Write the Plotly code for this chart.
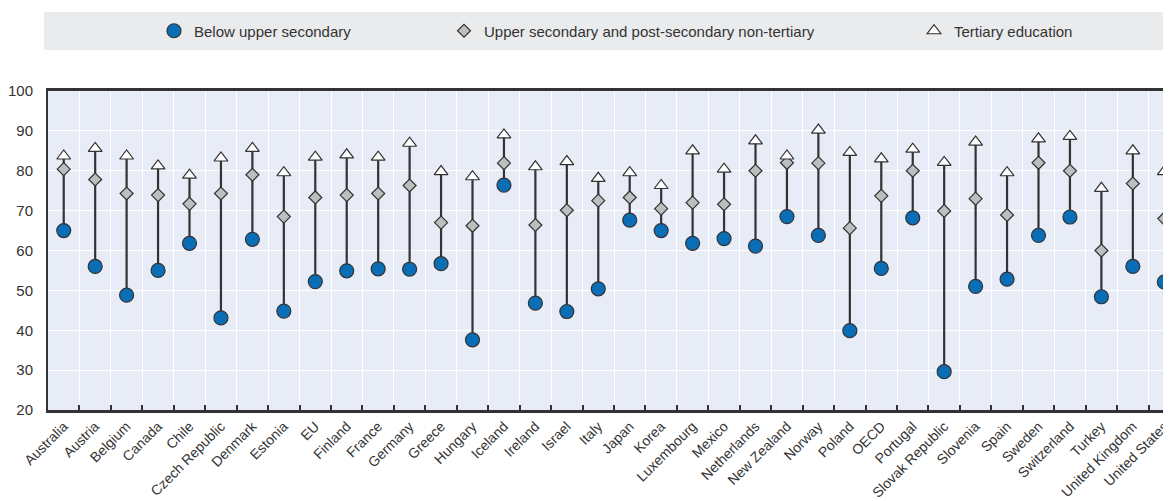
import plotly.graph_objects as go

countries = ["Australia", "Austria", "Belgium", "Canada", "Chile", "Czech Republic", "Denmark",
             "Estonia", "EU", "Finland", "France", "Germany", "Greece", "Hungary", "Iceland",
             "Ireland", "Israel", "Italy", "Japan", "Korea", "Luxembourg", "Mexico", "Netherlands",
             "New Zealand", "Norway", "Poland", "OECD", "Portugal", "Slovak Republic", "Slovenia",
             "Spain", "Sweden", "Switzerland", "Turkey", "United Kingdom", "United States"]

below_upper_secondary = [65.0, 56.0, 48.8, 55.0, 61.8, 43.1, 62.8, 44.8, 52.2, 54.9, 55.4, 55.3,
                         56.7, 37.6, 76.4, 46.8, 44.7, 50.4, 67.6, 65.0, 61.8, 63.0, 61.1, 68.5,
                         63.8, 39.9, 55.5, 68.2, 29.6, 51.0, 52.8, 63.8, 68.4, 48.4, 56.0, 52.1]

upper_secondary = [80.4, 77.8, 74.3, 73.9, 71.7, 74.3, 79.0, 68.5, 73.3, 73.9, 74.3, 76.3,
                   67.0, 66.2, 81.9, 66.4, 70.1, 72.5, 73.3, 70.5, 72.0, 71.6, 80.0, 82.0,
                   81.9, 65.6, 73.7, 80.0, 69.9, 73.0, 68.9, 82.0, 80.0, 60.0, 76.8, 68.0]

tertiary = [83.7, 85.6, 83.7, 81.2, 78.9, 83.2, 85.6, 79.5, 83.4, 84.0, 83.4, 86.9,
            79.8, 78.5, 89.0, 81.0, 82.3, 78.1, 79.5, 76.3, 85.0, 80.4, 87.5, 83.7,
            90.2, 84.6, 83.0, 85.4, 82.1, 87.2, 79.5, 88.0, 88.6, 75.6, 85.0, 79.8]

y_ticks = [20, 30, 40, 50, 60, 70, 80, 90, 100]

FONT = "Liberation Sans, Arial, sans-serif"
DARK = "#333333"

# connector lines from lowest to highest value per country
line_x, line_y = [], []
for c, a, b, t in zip(countries, below_upper_secondary, upper_secondary, tertiary):
    line_x += [c, c, None]
    line_y += [min(a, b, t), max(a, b, t), None]

fig = go.Figure()
fig.add_trace(go.Scatter(x=line_x, y=line_y, mode="lines",
                         line=dict(color=DARK, width=2.2), showlegend=False, hoverinfo="skip"))
fig.add_trace(go.Scatter(x=countries, y=below_upper_secondary, mode="markers",
                         name="Below upper secondary", legend="legend",
                         marker=dict(symbol="circle", size=14, color="#0a6eb6",
                                     line=dict(color=DARK, width=1.2))))
fig.add_trace(go.Scatter(x=countries, y=upper_secondary, mode="markers",
                         name="Upper secondary and post-secondary non-tertiary", legend="legend2",
                         marker=dict(symbol="diamond", size=10, color="#bdbebf",
                                     line=dict(color=DARK, width=1.2))))
fig.add_trace(go.Scatter(x=countries, y=tertiary, mode="markers",
                         name="Tertiary education", legend="legend3",
                         marker=dict(symbol="triangle-up", size=12, color="white",
                                     line=dict(color=DARK, width=1.2))))

# page body has an 8px margin; figure sized so it ends at the window edge
W, H = 1163, 493
leg_common = dict(xref="container", yref="container", xanchor="left", yanchor="middle",
                  orientation="h", bgcolor="rgba(0,0,0,0)", borderwidth=0,
                  font=dict(family=FONT, size=15, color=DARK), itemsizing="trace")

fig.update_layout(
    width=W, height=H,
    margin=dict(l=40, r=0, t=83, b=91),
    paper_bgcolor="white",
    plot_bgcolor="#e8ecf6",
    font=dict(family=FONT, size=14, color=DARK),
    legend=dict(x=146 / W, y=1 - 23 / H, **leg_common),
    legend2=dict(x=436 / W, y=1 - 23 / H, **leg_common),
    legend3=dict(x=906 / W, y=1 - 23 / H, **leg_common),
    shapes=[dict(type="rect", xref="paper", yref="paper",
                 x0=-4 / 1123, x1=1.05, y0=(410 - 50) / 319, y1=(410 - 12) / 319,
                 fillcolor="#eaebed", line=dict(width=0), layer="below")],
    xaxis=dict(type="category", categoryorder="array", categoryarray=countries,
               range=[-0.5, 35.15], tickson="boundaries", ticks="inside", ticklen=5,
               tickcolor=DARK, tickwidth=1.5, tickangle=-45,
               showgrid=True, gridcolor="white", gridwidth=1,
               showline=True, linecolor=DARK, linewidth=2.5, mirror=True,
               tickfont=dict(family=FONT, size=14, color=DARK), zeroline=False),
    yaxis=dict(range=[20, 100], tickvals=y_ticks, showgrid=True, gridcolor="white", gridwidth=1,
               showline=True, linecolor=DARK, linewidth=2, ticks="", ticklabelstandoff=10,
               tickfont=dict(family=FONT, size=15, color=DARK), zeroline=False),
)

fig.write_html("out.html")
